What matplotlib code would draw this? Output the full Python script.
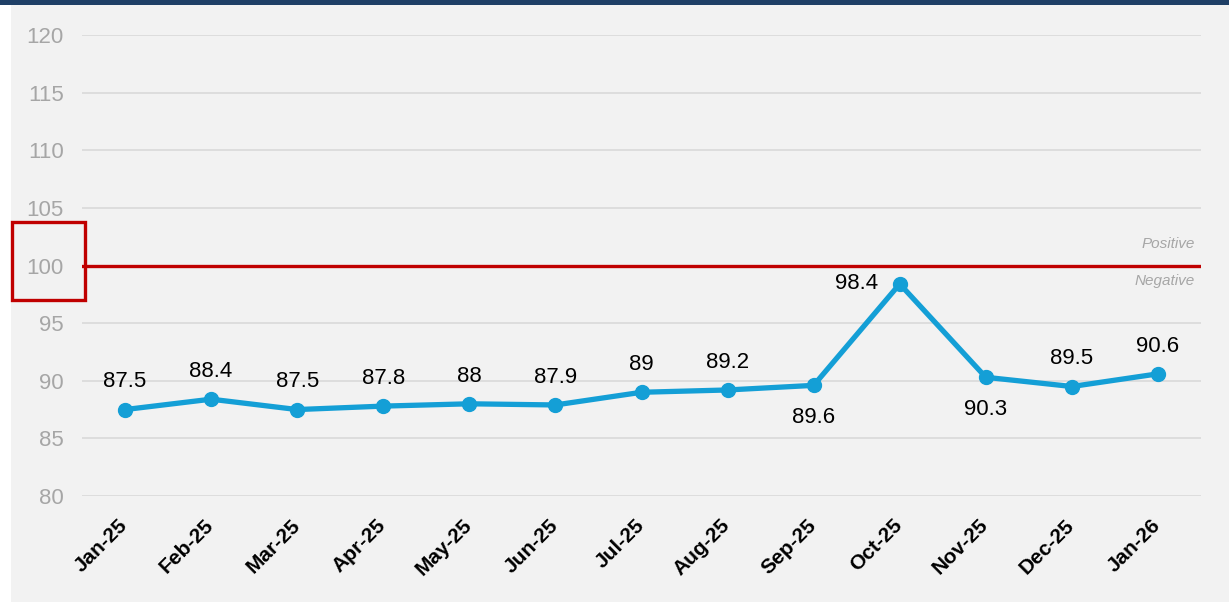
import matplotlib.pyplot as plt
from matplotlib.patches import Rectangle
from matplotlib.transforms import ScaledTranslation

months = ["Jan-25", "Feb-25", "Mar-25", "Apr-25", "May-25", "Jun-25", "Jul-25",
          "Aug-25", "Sep-25", "Oct-25", "Nov-25", "Dec-25", "Jan-26"]
values = [87.5, 88.4, 87.5, 87.8, 88.0, 87.9, 89.0, 89.2, 89.6, 98.4, 90.3, 89.5, 90.6]
value_labels = ["87.5", "88.4", "87.5", "87.8", "88", "87.9", "89",
                "89.2", "89.6", "98.4", "90.3", "89.5", "90.6"]
# where each data label sits relative to its point
label_pos = ["above"] * 8 + ["below", "left", "below", "above", "above"]
threshold = 100

plt.rcParams['font.family'] = ['Liberation Sans', 'DejaVu Sans']

fig = plt.figure(figsize=(12.29, 6.06), dpi=100)
fig.patch.set_facecolor('white')
# gray panel and dark top band
fig.add_artist(Rectangle((11 / 1229, 4 / 606), 1, 1 - 8 / 606, transform=fig.transFigure,
                         facecolor='#f2f2f2', edgecolor='none', zorder=-10))
fig.add_artist(Rectangle((0, 1 - 5 / 606), 1, 5 / 606, transform=fig.transFigure,
                         facecolor='#1f3f66', edgecolor='none', zorder=-10))

ax = fig.add_axes([82 / 1229, 1 - 496 / 606, (1201 - 82) / 1229, (496 - 35) / 606])
ax.set_facecolor('none')

x = range(len(months))
ax.plot(x, values, color='#149fd6', linewidth=3.8, marker='o', markersize=10,
        solid_capstyle='round', zorder=5)

for i, (v, lab, pos) in enumerate(zip(values, value_labels, label_pos)):
    if pos == "above":
        ax.annotate(lab, (i, v), xytext=(0, 20), textcoords='offset points',
                    ha='center', va='center', fontsize=16, color='black')
    elif pos == "below":
        ax.annotate(lab, (i, v), xytext=(0, -23), textcoords='offset points',
                    ha='center', va='center', fontsize=16, color='black')
    else:
        ax.annotate(lab, (i, v), xytext=(-31, 0), textcoords='offset points',
                    ha='center', va='center', fontsize=16, color='black')

ax.axhline(threshold, color='#c00000', linewidth=2.4, zorder=4)
ax.text(12.43, threshold + 1.3, "Positive", ha='right', va='bottom', fontsize=11,
        style='italic', color='#a6a6a6')
ax.text(12.43, threshold - 0.7, "Negative", ha='right', va='top', fontsize=11,
        style='italic', color='#a6a6a6')

ax.set_ylim(80, 120)
ax.set_xlim(-0.5, len(months) - 0.5)
ax.set_yticks(range(80, 121, 5))
ax.yaxis.grid(True, color='#d9d9d9', linewidth=1.2)
ax.set_axisbelow(True)
for s in ax.spines.values():
    s.set_visible(False)
ax.tick_params(axis='both', length=0)
ax.tick_params(axis='y', labelsize=16, labelcolor='#a6a6a6', pad=13)
ax.set_xticks(list(x))
ax.set_xticklabels(months, rotation=45, ha='right', rotation_mode='anchor',
                   fontsize=15, fontweight='bold')
ax.tick_params(axis='x', pad=14)
shift = ScaledTranslation(-7 / 100, 0, fig.dpi_scale_trans)
for t in ax.get_xticklabels():
    t.set_transform(t.get_transform() + shift)

# red box around the 100 tick label
ax.add_patch(Rectangle((-1.31, 97.0), 0.85, 6.75, fill=False, edgecolor='#c00000',
                       linewidth=2.4, clip_on=False, zorder=6))

fig.savefig("out.png", dpi=100)
